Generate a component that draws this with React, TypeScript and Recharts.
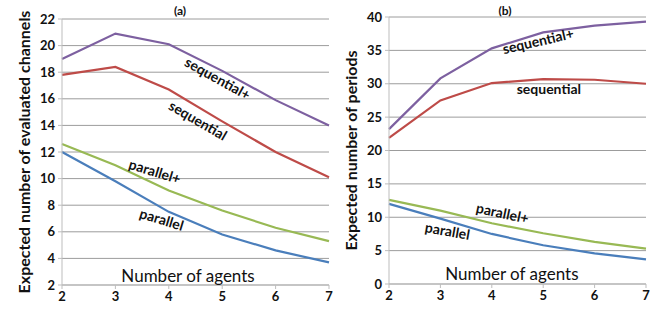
import React from "react";
import {
  CartesianGrid,
  Line,
  LineChart,
  ReferenceDot,
  XAxis,
  YAxis,
} from "recharts";

const agents = [2, 3, 4, 5, 6, 7];

// (a) expected number of evaluated channels
const channelsSeqPlus = [19.0, 20.9, 20.1, 18.1, 15.9, 14.0];
const channelsSeq = [17.8, 18.4, 16.7, 14.3, 12.0, 10.1];
const channelsParPlus = [12.6, 11.0, 9.1, 7.6, 6.3, 5.3];
const channelsPar = [12.0, 9.8, 7.5, 5.8, 4.6, 3.7];

// (b) expected number of periods
const periodsSeqPlus = [23.2, 30.8, 35.3, 37.7, 38.7, 39.3];
const periodsSeq = [21.9, 27.5, 30.1, 30.7, 30.6, 30.0];
const periodsParPlus = [12.6, 11.0, 9.1, 7.6, 6.3, 5.3];
const periodsPar = [12.0, 9.8, 7.5, 5.8, 4.6, 3.7];

const channelTicks = [2, 4, 6, 8, 10, 12, 14, 16, 18, 20, 22];
const periodTicks = [0, 5, 10, 15, 20, 25, 30, 35, 40];

const FONT = "Lato, 'Open Sans', sans-serif";
const COLORS = {
  seqPlus: "#7D60A0",
  seq: "#BE4B48",
  parPlus: "#98B954",
  par: "#4A7EBB",
};

type Note = { text: string; x: number; y: number; angle: number; size: number; weight: number };

const channelNotes: Note[] = [
  { text: "sequential+", x: 4.92, y: 17.56, angle: 29, size: 14, weight: 700 },
  { text: "sequential", x: 4.55, y: 14.4, angle: 30, size: 14, weight: 700 },
  { text: "parallel+", x: 3.74, y: 10.57, angle: 17, size: 14, weight: 700 },
  { text: "parallel", x: 3.87, y: 6.96, angle: 17, size: 14, weight: 700 },
  { text: "Number of agents", x: 4.36, y: 2.68, angle: 0, size: 17, weight: 400 },
];

const periodNotes: Note[] = [
  { text: "sequential+", x: 4.9, y: 36.45, angle: -13, size: 14, weight: 700 },
  { text: "sequential", x: 5.11, y: 29.26, angle: 0, size: 14, weight: 700 },
  { text: "parallel+", x: 4.21, y: 10.68, angle: 12, size: 14, weight: 700 },
  { text: "parallel", x: 3.14, y: 8.0, angle: 10, size: 14, weight: 700 },
  { text: "Number of agents", x: 4.39, y: 1.55, angle: 0, size: 17, weight: 400 },
];

function Panel(props: {
  left: number;
  width: number;
  yWidth: number;
  top: number;
  right: number;
  xHeight: number;
  titleX: number;
  title: string;
  yLabel: string;
  yLabelX: number;
  ticks: number[];
  series: number[][];
  notes: Note[];
}) {
  const data = agents.map((a, i) => ({
    agents: a,
    seqPlus: props.series[0][i],
    seq: props.series[1][i],
    parPlus: props.series[2][i],
    par: props.series[3][i],
  }));
  const lo = props.ticks[0];
  const hi = props.ticks[props.ticks.length - 1];

  return (
    <div style={{ position: "absolute", left: props.left, top: 0, width: props.width, height: 312 }}>
      <div
        style={{
          position: "absolute",
          left: props.titleX - 20,
          width: 40,
          top: 3,
          textAlign: "center",
          fontFamily: FONT,
          fontWeight: 700,
          fontSize: 12,
          color: "#111",
        }}
      >
        {props.title}
      </div>
      <LineChart
        width={props.width}
        height={312}
        data={data}
        margin={{ top: props.top, right: props.right, bottom: 0, left: 0 }}
        style={{ fontFamily: FONT }}
      >
        <CartesianGrid vertical={false} stroke="#9c9c9c" strokeWidth={1} />
        <XAxis
          dataKey="agents"
          type="number"
          domain={[2, 7]}
          ticks={agents}
          height={props.xHeight}
          stroke="#bdbdbd"
          tickSize={4}
          tickMargin={3}
          tick={{ fill: "#111", fontSize: 13, fontWeight: 700 }}
        />
        <YAxis
          domain={[lo, hi]}
          ticks={props.ticks}
          width={props.yWidth}
          stroke="#bdbdbd"
          tickSize={4}
          tickMargin={3}
          tick={{ fill: "#111", fontSize: 13, fontWeight: 700 }}
          label={{
            content: (p: any) => {
              const vb = p.viewBox || {};
              const cx = (vb.x || 0) + props.yLabelX;
              const cy = (vb.y || 0) + (vb.height || 0) / 2;
              return (
                <text
                  x={cx}
                  y={cy}
                  transform={`rotate(-90 ${cx} ${cy})`}
                  textAnchor="middle"
                  dominantBaseline="central"
                  fontFamily={FONT}
                  fontWeight={700}
                  fontSize={16}
                  fill="#111"
                >
                  {props.yLabel}
                </text>
              );
            },
          }}
        />
        <Line dataKey="seqPlus" stroke={COLORS.seqPlus} strokeWidth={2.2} dot={false} isAnimationActive={false} />
        <Line dataKey="seq" stroke={COLORS.seq} strokeWidth={2.2} dot={false} isAnimationActive={false} />
        <Line dataKey="parPlus" stroke={COLORS.parPlus} strokeWidth={2.2} dot={false} isAnimationActive={false} />
        <Line dataKey="par" stroke={COLORS.par} strokeWidth={2.2} dot={false} isAnimationActive={false} />
        {props.notes.map((n) => (
          <ReferenceDot
            key={n.text}
            x={n.x}
            y={n.y}
            r={0}
            shape={(s: any) => (
              <text
                x={s.cx}
                y={s.cy}
                transform={`rotate(${n.angle} ${s.cx} ${s.cy})`}
                textAnchor="middle"
                dominantBaseline="central"
                fontFamily={FONT}
                fontWeight={n.weight}
                fontSize={n.size}
                fill="#111"
              >
                {n.text}
              </text>
            )}
          />
        ))}
      </LineChart>
    </div>
  );
}

export default function App() {
  return (
    <div style={{ position: "absolute", left: 0, top: 0, width: 665, height: 312, background: "#fff" }}>
      <Panel
        left={0}
        width={340}
        yWidth={62}
        top={19}
        right={11}
        xHeight={27}
        titleX={180}
        title="(a)"
        yLabel="Expected number of evaluated channels"
        yLabelX={23}
        ticks={channelTicks}
        series={[channelsSeqPlus, channelsSeq, channelsParPlus, channelsPar]}
        notes={channelNotes}
      />
      <Panel
        left={330}
        width={335}
        yWidth={59}
        top={17}
        right={19}
        xHeight={28}
        titleX={175}
        title="(b)"
        yLabel="Expected number of periods"
        yLabelX={20}
        ticks={periodTicks}
        series={[periodsSeqPlus, periodsSeq, periodsParPlus, periodsPar]}
        notes={periodNotes}
      />
    </div>
  );
}
